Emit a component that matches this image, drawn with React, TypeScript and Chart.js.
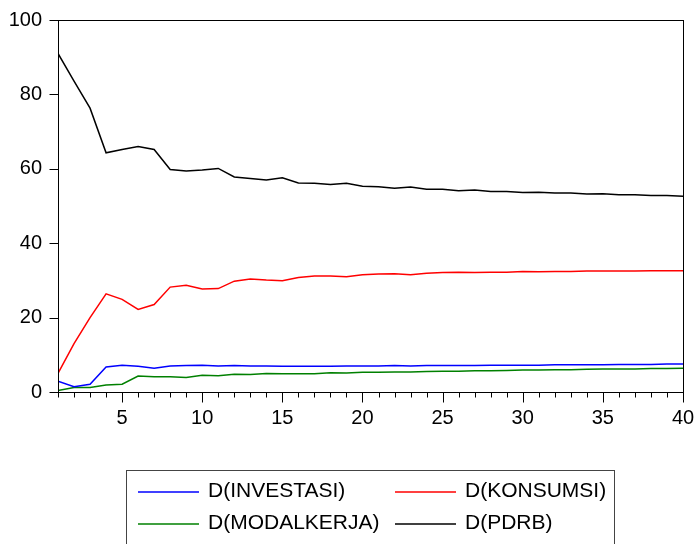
import React, { useEffect, useRef } from "react";
import { Chart, registerables } from "chart.js";

Chart.register(...registerables);

const periods: number[] = Array.from({ length: 40 }, (_, i) => i + 1);
const yTicks: number[] = [0, 20, 40, 60, 80, 100];
const seriesNames: string[] = ["D(INVESTASI)", "D(KONSUMSI)", "D(MODALKERJA)", "D(PDRB)"];
const seriesColors: string[] = ["#0000FF", "#FF0000", "#008000", "#000000"];

const investasi: number[] = [2.9, 1.4, 2.1, 6.7, 7.2, 6.9, 6.4, 7.0, 7.1, 7.2, 7.0, 7.1, 7.0, 7.0, 6.9, 6.9, 6.9, 6.9, 7.0, 7.0, 7.0, 7.1, 7.0, 7.1, 7.1, 7.1, 7.1, 7.2, 7.2, 7.2, 7.2, 7.3, 7.3, 7.3, 7.3, 7.4, 7.4, 7.4, 7.5, 7.5];
const konsumsi: number[] = [5.0, 13.0, 20.0, 26.4, 24.9, 22.2, 23.5, 28.2, 28.7, 27.7, 27.8, 29.8, 30.4, 30.1, 29.9, 30.8, 31.2, 31.2, 31.0, 31.5, 31.7, 31.8, 31.5, 31.9, 32.1, 32.2, 32.1, 32.2, 32.2, 32.4, 32.3, 32.4, 32.4, 32.5, 32.5, 32.5, 32.5, 32.6, 32.6, 32.6];
const modalkerja: number[] = [0.4, 1.2, 1.2, 1.9, 2.1, 4.3, 4.1, 4.1, 3.9, 4.5, 4.4, 4.8, 4.7, 5.0, 4.9, 4.9, 4.9, 5.2, 5.1, 5.3, 5.3, 5.4, 5.4, 5.5, 5.6, 5.6, 5.7, 5.7, 5.8, 5.9, 5.9, 6.0, 6.0, 6.1, 6.2, 6.2, 6.2, 6.3, 6.3, 6.4];
const pdrb: number[] = [91.0, 83.6, 76.3, 64.3, 65.2, 66.0, 65.2, 59.8, 59.4, 59.7, 60.1, 57.8, 57.4, 57.0, 57.6, 56.2, 56.1, 55.8, 56.1, 55.3, 55.2, 54.8, 55.1, 54.5, 54.5, 54.1, 54.3, 53.9, 53.9, 53.6, 53.7, 53.5, 53.5, 53.2, 53.3, 53.0, 53.0, 52.8, 52.8, 52.6];

const FONT = "'Liberation Sans', Arial, sans-serif";

const framePlugin = {
  id: "frameTicks",
  afterDraw(chart: any) {
    const { ctx, chartArea } = chart;
    const xs = chart.scales.x;
    const ys = chart.scales.y;
    const l = Math.round(chartArea.left) + 0.5;
    const r = Math.round(chartArea.right) + 0.5;
    const t = Math.round(chartArea.top) + 0.5;
    const b = Math.round(chartArea.bottom) + 0.5;
    ctx.save();
    ctx.strokeStyle = "#000";
    ctx.lineWidth = 1;
    ctx.strokeRect(l, t, r - l, b - t);
    for (const p of periods) {
      const x = Math.round(xs.getPixelForValue(p)) + 0.5;
      ctx.beginPath();
      ctx.moveTo(x, b);
      ctx.lineTo(x, b + (p % 5 === 0 ? 10 : 5));
      ctx.stroke();
    }
    for (const v of yTicks) {
      const y = Math.round(ys.getPixelForValue(v)) + 0.5;
      ctx.beginPath();
      ctx.moveTo(l, y);
      ctx.lineTo(l - 9, y);
      ctx.stroke();
    }
    ctx.restore();
  },
};

const legendPlugin = {
  id: "boxLegend",
  afterDraw(chart: any) {
    const { ctx } = chart;
    const ds = chart.data.datasets;
    ctx.save();
    ctx.strokeStyle = "#444";
    ctx.lineWidth = 1;
    ctx.strokeRect(126.5, 470.5, 488, 120);
    const cols = [138, 395];
    const rows = [492, 524];
    ctx.font = `21px ${FONT}`;
    ctx.textBaseline = "middle";
    ctx.textAlign = "left";
    ds.forEach((d: any, i: number) => {
      const cx = cols[i % 2];
      const cy = rows[Math.floor(i / 2)];
      ctx.strokeStyle = d.borderColor;
      ctx.lineWidth = 1.5;
      ctx.beginPath();
      ctx.moveTo(cx, cy);
      ctx.lineTo(cx + 61, cy);
      ctx.stroke();
      ctx.fillStyle = "#000";
      ctx.fillText(d.label, cx + 70, cy - 1);
    });
    ctx.restore();
  },
};

export default function App() {
  const ref = useRef<HTMLCanvasElement>(null);
  useEffect(() => {
    if (!ref.current) return;
    const values = [investasi, konsumsi, modalkerja, pdrb];
    const chart = new Chart(ref.current, {
      type: "line",
      data: {
        labels: periods,
        datasets: values.map((arr, i) => ({
          label: seriesNames[i],
          data: arr.map((v, j) => ({ x: periods[j], y: v })),
          borderColor: seriesColors[i],
          backgroundColor: seriesColors[i],
          borderWidth: 1.5,
          pointRadius: 0,
          tension: 0,
          fill: false,
        })),
      },
      options: {
        animation: false,
        responsive: false,
        maintainAspectRatio: false,
        layout: { padding: { top: 20, right: 14, left: 0, bottom: 0 } },
        plugins: { legend: { display: false }, tooltip: { enabled: false } },
        scales: {
          x: {
            type: "linear",
            min: 1,
            max: 40,
            afterFit(scale: any) {
              scale.height = 152;
              scale.paddingLeft = 0;
              scale.paddingRight = 0;
            },
            afterBuildTicks(scale: any) {
              scale.ticks = periods.map((p) => ({ value: p }));
            },
            grid: { display: false, drawTicks: false },
            border: { display: false },
            ticks: {
              autoSkip: false,
              maxRotation: 0,
              padding: 14,
              color: "#000",
              font: { family: FONT, size: 20 },
              callback: (v: any) => (Number(v) % 5 === 0 ? String(v) : ""),
            },
          },
          y: {
            min: 0,
            max: 100,
            afterFit(scale: any) {
              scale.width = 58;
              scale.paddingTop = 0;
              scale.paddingBottom = 0;
            },
            afterBuildTicks(scale: any) {
              scale.ticks = yTicks.map((v) => ({ value: v }));
            },
            grid: { display: false, drawTicks: false },
            border: { display: false },
            ticks: {
              padding: 16,
              color: "#000",
              font: { family: FONT, size: 20 },
            },
          },
        },
      },
      plugins: [framePlugin, legendPlugin],
    });
    return () => chart.destroy();
  }, []);
  return (
    <div style={{ position: "fixed", left: 0, top: 0, width: 697, height: 544, background: "#fff" }}>
      <canvas ref={ref} width={697} height={544} style={{ display: "block", width: 697, height: 544 }} />
    </div>
  );
}
